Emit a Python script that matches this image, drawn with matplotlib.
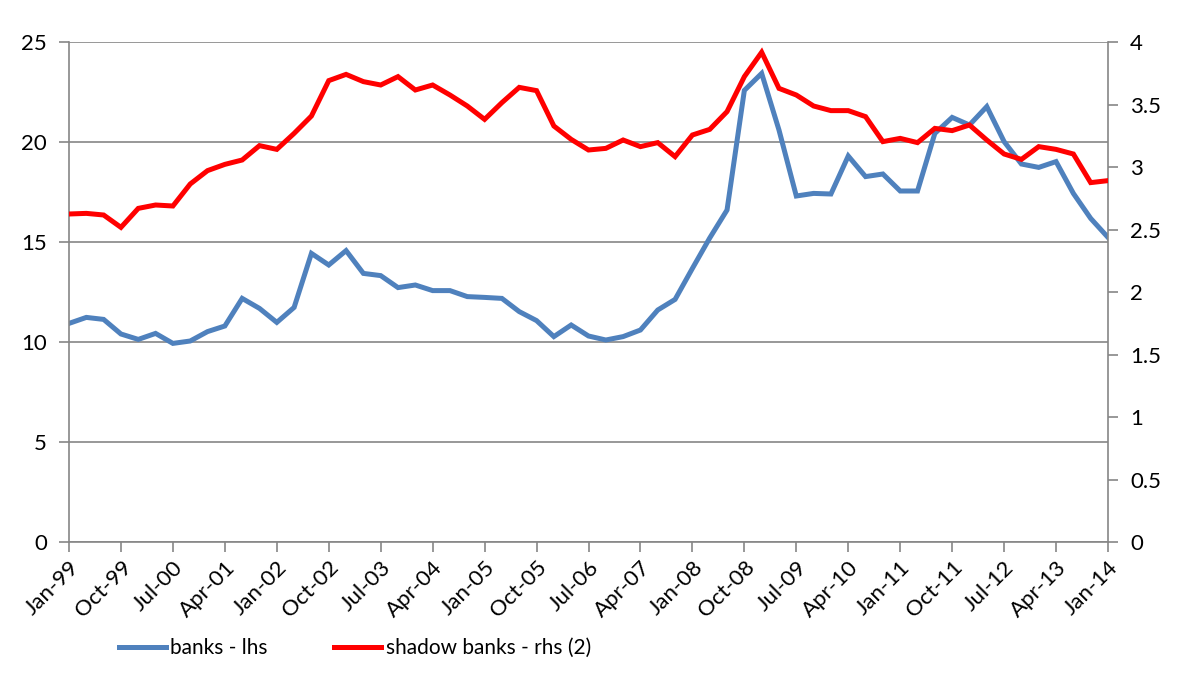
import matplotlib
matplotlib.use("Agg")
import matplotlib.pyplot as plt
import numpy as np

plt.rcParams['font.family'] = ['Lato', 'DejaVu Sans']

# Quarterly observations, Jan-99 .. Jan-14 (61 quarters)
banks_lhs = [10.93, 11.23, 11.13, 10.40, 10.13, 10.43, 9.93, 10.05, 10.52, 10.80,
             12.18, 11.68, 10.98, 11.73, 14.43, 13.85, 14.57, 13.43, 13.32, 12.72,
             12.85, 12.57, 12.57, 12.27, 12.23, 12.18, 11.52, 11.07, 10.27, 10.85,
             10.30, 10.10, 10.27, 10.60, 11.60, 12.13, 13.68, 15.20, 16.60, 22.58,
             23.43, 20.60, 17.30, 17.43, 17.40, 19.30, 18.27, 18.40, 17.55, 17.55,
             20.43, 21.23, 20.85, 21.77, 20.02, 18.90, 18.73, 19.02, 17.43, 16.18,
             15.23]
shadow_banks_rhs = [2.624, 2.629, 2.616, 2.517, 2.669, 2.696, 2.688, 2.864, 2.971, 3.021,
                    3.056, 3.171, 3.141, 3.269, 3.408, 3.691, 3.741, 3.683, 3.656, 3.723,
                    3.616, 3.656, 3.576, 3.488, 3.381, 3.515, 3.637, 3.611, 3.328, 3.221,
                    3.136, 3.149, 3.216, 3.163, 3.195, 3.083, 3.256, 3.301, 3.443, 3.723,
                    3.918, 3.629, 3.576, 3.488, 3.451, 3.451, 3.403, 3.203, 3.229, 3.195,
                    3.309, 3.291, 3.336, 3.216, 3.104, 3.061, 3.163, 3.141, 3.104, 2.875,
                    2.891]
tick_labels = ['Jan-99', 'Oct-99', 'Jul-00', 'Apr-01', 'Jan-02', 'Oct-02', 'Jul-03',
               'Apr-04', 'Jan-05', 'Oct-05', 'Jul-06', 'Apr-07', 'Jan-08', 'Oct-08',
               'Jul-09', 'Apr-10', 'Jan-11', 'Oct-11', 'Jul-12', 'Apr-13', 'Jan-14']
legend_labels = ['banks - lhs', 'shadow banks - rhs (2)']

blue = '#4F81BD'
red = '#FF0000'
gray = '#868686'

fig = plt.figure(figsize=(11.82, 6.91), dpi=100)
ax = fig.add_axes([69/1182, 1-542/691, (1108-69)/1182, 500/691])
ax2 = ax.twinx()

x = np.arange(len(banks_lhs))
l1, = ax.plot(x, banks_lhs, color=blue, lw=3.6, solid_joinstyle='miter', zorder=3)
l2, = ax2.plot(x, shadow_banks_rhs, color=red, lw=3.6, solid_joinstyle='miter', zorder=3)

ax.set_xlim(0, len(banks_lhs) - 1)
ax.set_ylim(0, 25)
ax2.set_ylim(0, 4)
ax.set_yticks(np.arange(0, 26, 5))
ax2.set_yticks(np.arange(0, 4.01, 0.5))
ax2.set_yticklabels(['0', '0.5', '1', '1.5', '2', '2.5', '3', '3.5', '4'])
ax.set_xticks(np.arange(0, len(banks_lhs), 3))
ax.set_xticklabels(tick_labels, rotation=45, ha='right', rotation_mode='anchor')

ax.grid(axis='y', color=gray, lw=1.2)
ax.set_axisbelow(True)
for a in (ax, ax2):
    a.spines['top'].set_visible(False)
ax.spines['right'].set_visible(False)
ax.spines['left'].set_visible(False)
ax.spines['bottom'].set_visible(False)
for s in ('left', 'bottom', 'right'):
    ax2.spines[s].set_visible(True)
    ax2.spines[s].set_color(gray)
    ax2.spines[s].set_linewidth(1.2)

ax.tick_params(axis='y', length=7, width=1.2, color=gray, labelsize=16, pad=9)
ax.tick_params(axis='x', length=7, width=1.2, color=gray, labelsize=16, pad=4)
ax2.tick_params(axis='y', length=7, width=1.2, color=gray, labelsize=16, pad=9)

fig.legend([l1, l2], legend_labels, loc='center', bbox_to_anchor=(355/1182, 1-648/691),
           ncol=2, frameon=False, fontsize=15, handlelength=2.25, handletextpad=0.2,
           columnspacing=3.2)

fig.savefig('out.png', dpi=100)
